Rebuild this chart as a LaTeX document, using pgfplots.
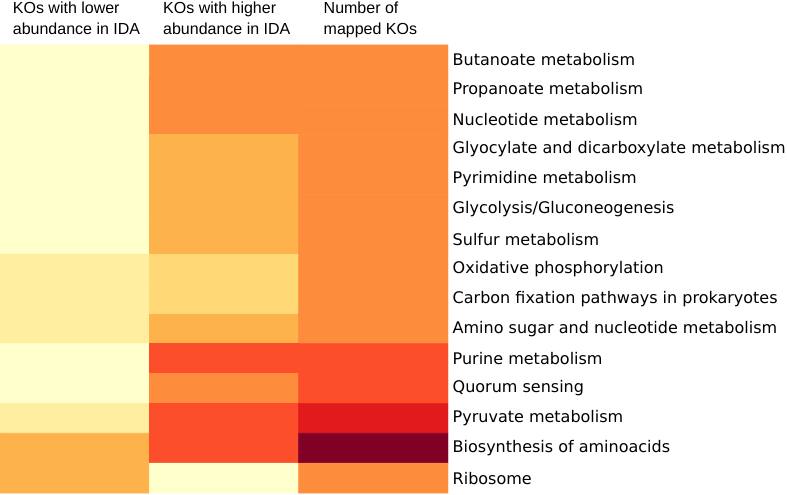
\documentclass[border=0pt]{standalone}
\usepackage{fontspec}
\setmainfont{DejaVu Sans}
\newfontfamily\headfont{Liberation Sans}
\usepackage{pgfplots}
\usepackage{pgfplotstable}
\pgfplotsset{compat=1.18}

% x = column, y = pathway row (0 = top), c = colour class
\pgfplotstableread{
x y c
0 0 0
1 0 4
2 0 4
0 1 0
1 1 4
2 1 4
0 2 0
1 2 4
2 2 4
0 3 0
1 3 3
2 3 4
0 4 0
1 4 3
2 4 4
0 5 0
1 5 3
2 5 4
0 6 0
1 6 3
2 6 4
0 7 1
1 7 2
2 7 4
0 8 1
1 8 2
2 8 4
0 9 1
1 9 3
2 9 4
0 10 0
1 10 5
2 10 5
0 11 0
1 11 4
2 11 5
0 12 1
1 12 5
2 12 6
0 13 3
1 13 5
2 13 7
0 14 3
1 14 0
2 14 4
}\heat

\pgfplotsset{colormap={ylorrd}{rgb255=(255,255,204) rgb255=(255,237,160)
  rgb255=(254,217,118) rgb255=(254,178,76) rgb255=(253,141,60)
  rgb255=(252,78,42) rgb255=(227,26,28) rgb255=(128,0,38)}}

\begin{document}
\begin{tikzpicture}
\useasboundingbox (0,0) rectangle (787pt,495pt);
\begin{axis}[
  at={(0pt,2pt)}, anchor=south west,
  scale only axis, width=448pt, height=448pt,
  xmin=-0.5, xmax=2.5, ymin=-0.5, ymax=14.5,
  y dir=reverse,
  axis line style={draw=none},
  major tick length=0pt,
  xtick=\empty,
  ytick={0,...,14},
  yticklabels={Butanoate metabolism, Propanoate metabolism, Nucleotide metabolism,
    Glyocylate and dicarboxylate metabolism, Pyrimidine metabolism,
    Glycolysis/Gluconeogenesis, Sulfur metabolism, Oxidative phosphorylation,
    Carbon fixation pathways in prokaryotes, Amino sugar and nucleotide metabolism,
    Purine metabolism, Quorum sensing, Pyruvate metabolism,
    Biosynthesis of aminoacids, Ribosome},
  yticklabel pos=right,
  yticklabel style={anchor=west, inner sep=0pt, xshift=4.5pt,
    font=\fontsize{16}{19}\selectfont},
  colormap name=ylorrd,
  colormap access=direct,
]
\addplot[matrix plot*, mesh/cols=3, point meta=explicit,
  shader=faceted, faceted color=mapped color, line width=0.6pt]
  table[x=x, y=y, meta=c] {\heat};
\end{axis}
\begin{scope}[every node/.style={anchor=base west, inner sep=0pt,
    font=\headfont\fontsize{16}{20}\selectfont}]
\node at (12.7pt,481.7pt) {KOs with lower};
\node at (12.7pt,460.7pt) {abundance in IDA};
\node at (163pt,481.7pt) {KOs with higher};
\node at (163pt,460.7pt) {abundance in IDA};
\node at (323.5pt,481.7pt) {Number of};
\node at (323.5pt,460.7pt) {mapped KOs};
\end{scope}
\end{tikzpicture}
\end{document}
